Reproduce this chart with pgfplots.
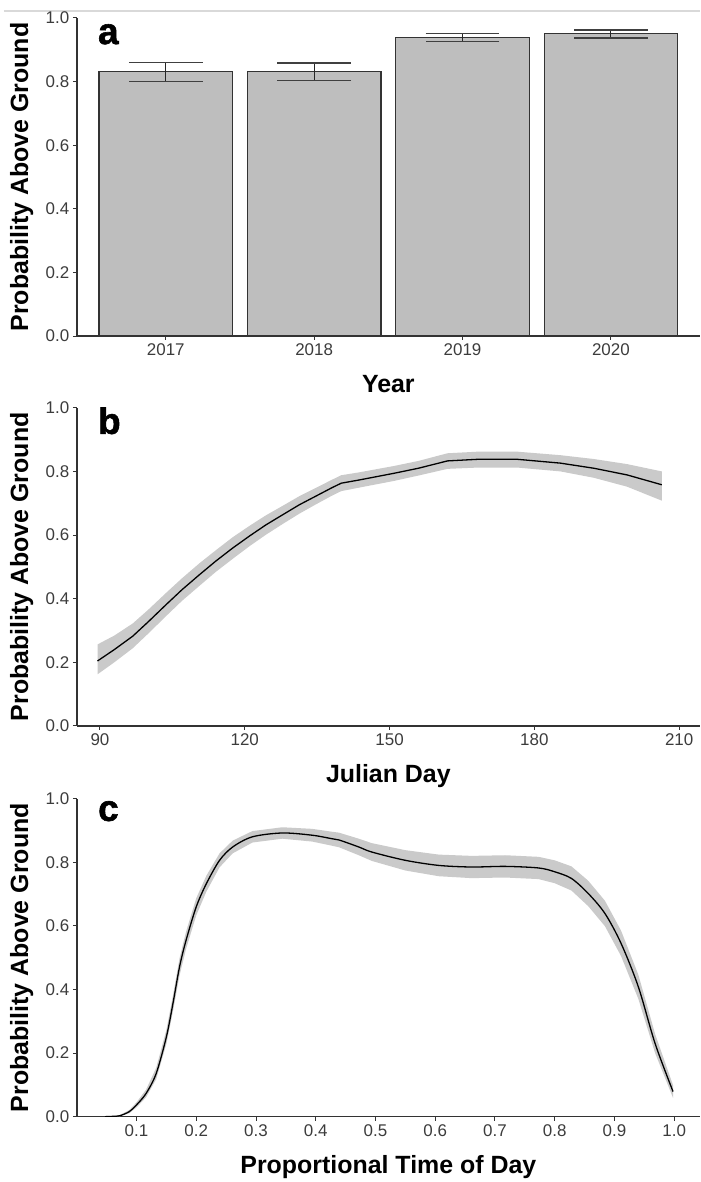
\documentclass[border=0pt]{standalone}
\usepackage{fontspec}
\setmainfont{Liberation Sans}
\newfontfamily\tagfont[FakeBold=1.6]{Liberation Sans Bold}
\usepackage{pgfplots}
\pgfplotsset{compat=1.18}
\usepackage{pgfplotstable}

\definecolor{barfill}{RGB}{190,190,190}
\definecolor{ribbon}{RGB}{202,202,202}
\definecolor{axisc}{RGB}{51,51,51}
\definecolor{tickc}{RGB}{60,60,60}

% panel b fitted line
\pgfplotstableread{
x y
89.5 0.204
93.0 0.240
96.8 0.282
100.0 0.327
103.7 0.381
107.0 0.428
110.6 0.475
114.0 0.518
117.5 0.559
121.0 0.597
124.4 0.632
128.0 0.665
131.3 0.695
134.7 0.722
138.1 0.749
140.0 0.763
143.7 0.773
150.9 0.794
156.0 0.810
162.0 0.833
168.2 0.838
176.5 0.838
185.4 0.826
192.3 0.810
199.2 0.789
206.4 0.758
}\tabB
% panel b confidence band: upper edge forward, lower edge back
\pgfplotstableread{
x y
89.5 0.256
93.0 0.284
96.8 0.322
100.0 0.365
103.7 0.418
107.0 0.464
110.6 0.511
114.0 0.552
117.5 0.593
121.0 0.629
124.4 0.662
128.0 0.693
131.3 0.722
134.7 0.748
138.1 0.774
140.0 0.788
143.7 0.797
150.9 0.817
156.0 0.833
162.0 0.857
168.2 0.862
176.5 0.862
185.4 0.851
192.3 0.839
199.2 0.823
206.4 0.800
206.4 0.708
199.2 0.752
192.3 0.780
185.4 0.800
176.5 0.812
168.2 0.812
162.0 0.808
156.0 0.787
150.9 0.770
143.7 0.749
140.0 0.738
138.1 0.724
134.7 0.696
131.3 0.667
128.0 0.636
124.4 0.601
121.0 0.565
117.5 0.525
114.0 0.484
110.6 0.440
107.0 0.393
103.7 0.345
100.0 0.290
96.8 0.244
93.0 0.200
89.5 0.162
}\bandB

% panel c fitted line
\pgfplotstableread{
x y
0.047 0.000
0.060 0.001
0.072 0.003
0.088 0.016
0.100 0.037
0.116 0.073
0.133 0.136
0.150 0.251
0.161 0.356
0.172 0.471
0.183 0.555
0.200 0.660
0.217 0.733
0.239 0.806
0.261 0.848
0.294 0.880
0.344 0.892
0.394 0.885
0.427 0.874
0.439 0.870
0.472 0.848
0.494 0.832
0.550 0.806
0.606 0.790
0.661 0.785
0.717 0.787
0.773 0.782
0.800 0.770
0.828 0.749
0.856 0.702
0.884 0.639
0.911 0.545
0.940 0.408
0.968 0.230
0.998 0.079
}\tabC
% panel c confidence band
\pgfplotstableread{
x y
0.047 0.001
0.060 0.002
0.072 0.005
0.088 0.021
0.100 0.045
0.116 0.085
0.133 0.154
0.150 0.273
0.161 0.381
0.172 0.498
0.183 0.582
0.200 0.687
0.217 0.758
0.239 0.828
0.261 0.868
0.294 0.898
0.344 0.910
0.394 0.905
0.427 0.896
0.439 0.893
0.472 0.874
0.494 0.860
0.550 0.838
0.606 0.824
0.661 0.820
0.717 0.822
0.773 0.817
0.800 0.806
0.828 0.787
0.856 0.742
0.884 0.679
0.911 0.585
0.940 0.446
0.968 0.260
0.998 0.099
0.998 0.059
0.968 0.200
0.940 0.370
0.911 0.505
0.884 0.599
0.856 0.662
0.828 0.711
0.800 0.734
0.773 0.747
0.717 0.752
0.661 0.750
0.606 0.756
0.550 0.774
0.494 0.804
0.472 0.822
0.439 0.847
0.427 0.852
0.394 0.865
0.344 0.874
0.294 0.862
0.261 0.828
0.239 0.784
0.217 0.708
0.200 0.633
0.183 0.528
0.172 0.444
0.161 0.331
0.150 0.229
0.133 0.118
0.116 0.061
0.100 0.029
0.088 0.011
0.072 0.001
0.060 0.000
0.047 0.000
}\bandC

\pgfplotsset{
  panel/.style={
    width=625pt, height=319pt, scale only axis,
    axis x line*=bottom, axis y line*=left,
    axis line style={-, axisc, line width=1.6pt},
    ymin=0, ymax=1, ytick={0,0.2,0.4,0.6,0.8,1},
    tick align=outside, major tick length=4pt,
    tick style={axisc, line width=1pt},
    tick label style={font=\fontsize{17}{19}\selectfont, text=tickc},
    /pgf/number format/assume math mode=true,
    y tick label style={/pgf/number format/.cd, fixed, fixed zerofill, precision=1, /tikz/.cd},
    ylabel={Probability Above Ground},
    every axis y label/.style={at={(axis description cs:-0.0885,0.5)}, rotate=90, anchor=center},
    every axis x label/.style={at={(axis description cs:0.5,-0.1787)}, anchor=base},
    label style={font=\bfseries\fontsize{25}{28}\selectfont, text=black},
  },
}
\tikzset{tag/.style={anchor=base west, font=\tagfont\fontsize{37}{40}\selectfont, inner sep=0pt}}

\begin{document}
\begin{tikzpicture}
\draw[black!15, line width=2pt] (4pt,-11pt) -- (702pt,-11pt);

% Panel a
\begin{axis}[panel, at={(77pt,-337pt)}, anchor=south west,
  xmin=0.4, xmax=4.6, xtick={1,2,3,4}, xticklabels={2017,2018,2019,2020},
  xlabel={Year}, ybar, bar width=0.9]
\addplot[fill=barfill, draw=axisc, line width=1.2pt,
  error bars/.cd, y dir=both, y explicit,
  error bar style={line width=1.2pt, black!85},
  error mark options={rotate=90, mark size=37pt, line width=1.4pt, black!75}]
  coordinates {
  (1,0.831) += (0,0.029) -= (0,0.031)
  (2,0.831) += (0,0.027) -= (0,0.027)
  (3,0.939) += (0,0.012) -= (0,0.013)
  (4,0.951) += (0,0.011) -= (0,0.014)
  };
\node[tag] at (rel axis cs:0.034,0.918) {a};
\end{axis}

% Panel b
\begin{axis}[panel, at={(77pt,-728pt)}, anchor=south west,
  xmin=85.2, xmax=214.3, xtick={90,120,150,180,210},
  xlabel={Julian Day}]
\addplot[fill=ribbon, draw=none] table[x=x, y=y] {\bandB} -- cycle;
\addplot[black, line width=1.3pt] table[x=x, y=y] {\tabB};
\node[tag] at (rel axis cs:0.034,0.918) {b};
\end{axis}

% Panel c
\begin{axis}[panel, at={(77pt,-1120pt)}, anchor=south west,
  xmin=0, xmax=1.043, xtick={0.1,0.2,0.3,0.4,0.5,0.6,0.7,0.8,0.9,1.0},
  x tick label style={/pgf/number format/.cd, fixed, fixed zerofill, precision=1, /tikz/.cd},
  xlabel={Proportional Time of Day}]
\addplot[fill=ribbon, draw=none] table[x=x, y=y] {\bandC} -- cycle;
\addplot[black, line width=1.3pt, smooth] table[x=x, y=y] {\tabC};
\node[tag] at (rel axis cs:0.034,0.93) {c};
\end{axis}
\path[use as bounding box] (0,0) rectangle (702pt,-1182pt);
\end{tikzpicture}
\end{document}
